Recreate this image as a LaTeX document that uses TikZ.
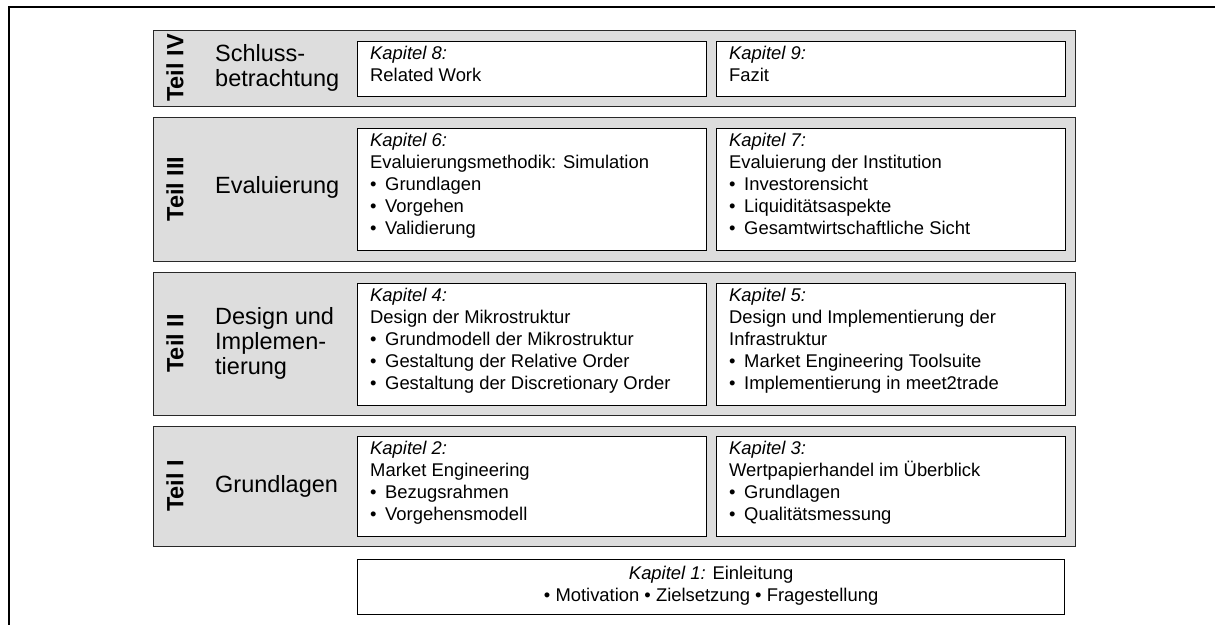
\documentclass[tikz,border=0pt]{standalone}
\usepackage{fontspec}
\setmainfont{Liberation Sans}
\usetikzlibrary{calc}
\definecolor{bandfill}{RGB}{221,221,221}
\definecolor{bandline}{RGB}{40,40,40}
\newcommand{\kap}[1]{\textit{Kapitel #1:}}
\newcommand{\bul}{\makebox[15pt][l]{•}}
\tikzset{
  frameline/.style={line width=2.4pt, black},
  band/.style={draw=bandline, fill=bandfill, line width=1.4pt, inner sep=0pt,
    anchor=north west, minimum width=922pt},
  chapbox/.style={draw=black, fill=white, line width=1.3pt, inner sep=0pt,
    anchor=north west, minimum width=349pt},
  chaptext/.style={anchor=north west, inner sep=0pt, align=left,
    font=\fontsize{18.4}{22}\selectfont, xshift=13pt, yshift=-5.4pt},
  teil/.style={rotate=90, inner sep=0pt, font=\bfseries\fontsize{23.5}{25}\selectfont},
  parttitle/.style={anchor=west, inner sep=0pt, align=left,
    font=\fontsize{23.5}{25}\selectfont},
}
\begin{document}
\begin{tikzpicture}[x=1pt,y=-1pt]
\useasboundingbox (0,0) rectangle (1215,625);

% open frame: top and left edge
\coordinate (ftr) at (1215,7);
\coordinate (ftl) at (9,7);
\coordinate (fbl) at (9,625);
\draw[frameline] (ftr) -- (ftl) -- (fbl);

% part bands
\node[band, minimum height=76pt]  (b4) at (153,30)  {};
\node[band, minimum height=144pt] (b3) at (153,117) {};
\node[band, minimum height=143pt] (b2) at (153,272) {};
\node[band, minimum height=120pt] (b1) at (153,426) {};

% part labels
\node[teil] (t4) at (175,68)  {Teil IV};
\node[teil] (t3) at (175,189) {Teil III};
\node[teil] (t2) at (175,343.5) {Teil II};
\node[teil] (t1) at (175,486) {Teil I};

\node[parttitle] (p4) at (215,68)  {Schluss-\\betrachtung};
\node[parttitle] (p3) at (215,187) {Evaluierung};
\node[parttitle] (p2) at (215,343.5) {Design und\\Implemen-\\tierung};
\node[parttitle] (p1) at (215,486) {Grundlagen};

% chapter boxes
\node[chapbox, minimum height=55pt]  (k8) at (357,41)  {};
\node[chapbox, minimum height=55pt]  (k9) at (716,41)  {};
\node[chapbox, minimum height=122pt] (k6) at (357,128) {};
\node[chapbox, minimum height=122pt] (k7) at (716,128) {};
\node[chapbox, minimum height=122pt] (k4) at (357,283) {};
\node[chapbox, minimum height=122pt] (k5) at (716,283) {};
\node[chapbox, minimum height=100pt] (k2) at (357,436) {};
\node[chapbox, minimum height=100pt] (k3) at (716,436) {};
\node[chapbox, minimum width=707pt, minimum height=55pt] (k1) at (357,559) {};

% chapter texts
\node[chaptext] (k8t) at (k8.north west) {\kap{8}\\Related Work};
\node[chaptext] (k9t) at (k9.north west) {\kap{9}\\Fazit};
\node[chaptext] (k6t) at (k6.north west) {\kap{6}\\Evaluierungsmethodik: Simulation\\
  \bul Grundlagen\\\bul Vorgehen\\\bul Validierung};
\node[chaptext] (k7t) at (k7.north west) {\kap{7}\\Evaluierung der Institution\\
  \bul Investorensicht\\\bul Liquiditätsaspekte\\\bul Gesamtwirtschaftliche Sicht};
\node[chaptext] (k4t) at (k4.north west) {\kap{4}\\Design der Mikrostruktur\\
  \bul Grundmodell der Mikrostruktur\\\bul Gestaltung der Relative Order\\
  \bul Gestaltung der Discretionary Order};
\node[chaptext] (k5t) at (k5.north west) {\kap{5}\\Design und Implementierung der\\
  Infrastruktur\\\bul Market Engineering Toolsuite\\\bul Implementierung in meet2trade};
\node[chaptext] (k2t) at (k2.north west) {\kap{2}\\Market Engineering\\
  \bul Bezugsrahmen\\\bul Vorgehensmodell};
\node[chaptext] (k3t) at (k3.north west) {\kap{3}\\Wertpapierhandel im Überblick\\
  \bul Grundlagen\\\bul Qualitätsmessung};
\node[inner sep=0pt, align=center, font=\fontsize{18.4}{22}\selectfont] (k1t)
  at ($(k1.center)+(0,-1.5)$) {\kap{1} Einleitung\\• Motivation • Zielsetzung • Fragestellung};
\end{tikzpicture}
\end{document}
